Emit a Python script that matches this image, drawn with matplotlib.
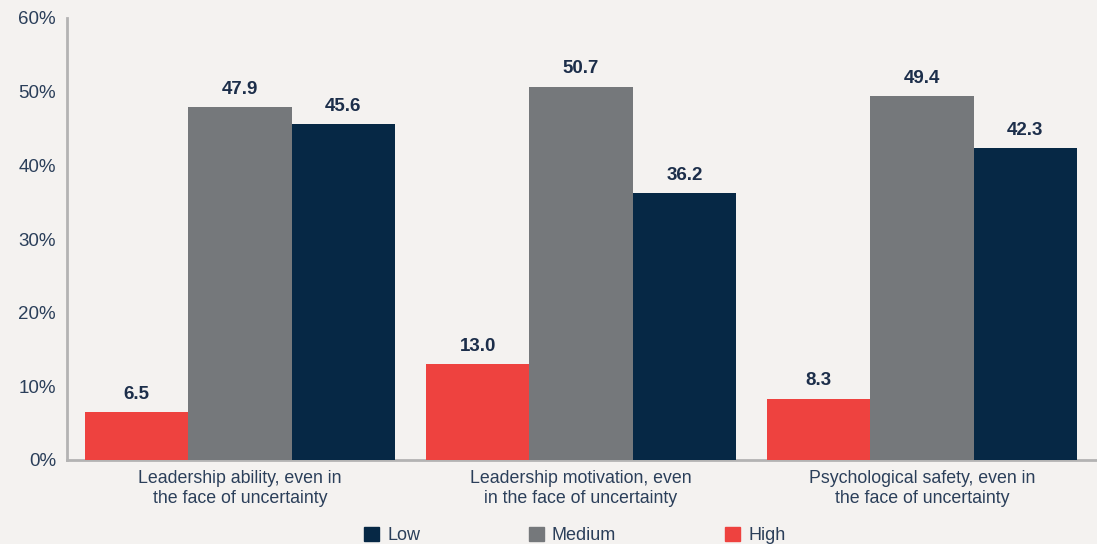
import numpy as np
import matplotlib.pyplot as plt
from matplotlib.patches import Patch

plt.rcParams['font.family'] = ['Liberation Sans', 'DejaVu Sans']

categories = ['Leadership ability, even in\nthe face of uncertainty',
              'Leadership motivation, even\nin the face of uncertainty',
              'Psychological safety, even in\nthe face of uncertainty']
high = [6.5, 13.0, 8.3]
medium = [47.9, 50.7, 49.4]
low = [45.6, 36.2, 42.3]
yticks = [0, 10, 20, 30, 40, 50, 60]

bg = '#f4f2f0'
c_high = '#ee423f'
c_med = '#75787b'
c_low = '#062845'
txt = '#2b3f5a'

fig = plt.figure(figsize=(10.97, 5.44), dpi=100, facecolor=bg)
ax = fig.add_axes([67/1097, 84/544, 1029/1097, 442/544])
ax.set_facecolor(bg)

x = np.arange(len(categories))
w = 0.303
series = [(high, c_high), (medium, c_med), (low, c_low)]
for i, (vals, col) in enumerate(series):
    bars = ax.bar(x + (i - 1) * w, vals, w, color=col, zorder=2)
    for b, v in zip(bars, vals):
        ax.text(b.get_x() + b.get_width() / 2, v + 1.3, f'{v:.1f}',
                ha='center', va='bottom', fontsize=13.5, fontweight='bold',
                color='#1c2e4a')

ax.set_xlim(-0.507, 2.51)
ax.set_ylim(0, 60)
ax.set_yticks(yticks)
ax.set_yticklabels([f'{t}%' for t in yticks])
ax.set_xticks(x)
ax.set_xticklabels(categories, linespacing=1.28)
ax.tick_params(axis='y', length=0, pad=8, labelsize=13.5, labelcolor=txt)
ax.tick_params(axis='x', length=0, pad=7, labelsize=12.8, labelcolor=txt)

for s in ['top', 'right']:
    ax.spines[s].set_visible(False)
for s in ['left', 'bottom']:
    ax.spines[s].set_color('#b3b3b3')
    ax.spines[s].set_linewidth(2)
    ax.spines[s].set_zorder(1)

handles = [Patch(color=c_low, label='Low'),
           Patch(color=c_med, label='Medium'),
           Patch(color=c_high, label='High')]
fig.legend(handles=handles, loc='lower center', bbox_to_anchor=(0.5237, -0.03),
           ncol=3, frameon=False, fontsize=13, labelcolor=txt,
           handlelength=0.85, handleheight=0.85, handletextpad=0.45,
           columnspacing=6.0)

fig.savefig('out.png', dpi=100, facecolor=bg)
